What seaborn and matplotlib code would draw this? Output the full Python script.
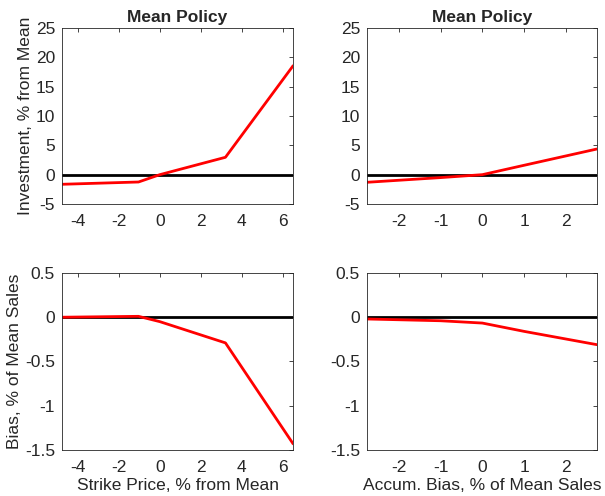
import numpy as np
import pandas as pd
import matplotlib
matplotlib.use('Agg')
import matplotlib.pyplot as plt
import seaborn as sns

# Data
strike_x = [-4.77, -1.04, 0.0, 3.2, 6.5]
strike_invest = [-1.64, -1.25, 0.0, 2.96, 18.56]
strike_bias = [0.0, 0.01, -0.05, -0.29, -1.43]

accum_x = [-2.76, -1.0, 0.0, 1.0, 2.74]
accum_invest = [-1.3, -0.5, 0.0, 1.6, 4.37]
accum_bias = [-0.02, -0.04, -0.066, -0.16, -0.31]

strike_xlim = (-4.77, 6.5)
accum_xlim = (-2.76, 2.74)
strike_xticks = [-4, -2, 0, 2, 4, 6]
accum_xticks = [-2, -1, 0, 1, 2]
invest_yticks = [-5, 0, 5, 10, 15, 20, 25]
bias_yticks = [-1.5, -1, -0.5, 0, 0.5]

sns.set_style('white')
plt.rcParams['font.family'] = ['Liberation Sans', 'DejaVu Sans']

fig = plt.figure(figsize=(6.05, 4.96), dpi=100)
ax_tl = fig.add_axes([0.1025, 0.5887, 0.382, 0.355])
ax_tr = fig.add_axes([0.6066, 0.5887, 0.380, 0.355])
ax_bl = fig.add_axes([0.1025, 0.0927, 0.382, 0.357])
ax_br = fig.add_axes([0.6066, 0.0927, 0.380, 0.357])

panels = [
    (ax_tl, strike_x, strike_invest, strike_xlim, strike_xticks, invest_yticks, (-5, 25)),
    (ax_tr, accum_x, accum_invest, accum_xlim, accum_xticks, invest_yticks, (-5, 25)),
    (ax_bl, strike_x, strike_bias, strike_xlim, strike_xticks, bias_yticks, (-1.5, 0.5)),
    (ax_br, accum_x, accum_bias, accum_xlim, accum_xticks, bias_yticks, (-1.5, 0.5)),
]

def fmt(v):
    return f'{v:g}'

for ax, xs, ys, xlim, xt, yt, ylim in panels:
    ax.axhline(0, color='black', lw=2, zorder=1)
    df = pd.DataFrame({'x': xs, 'y': ys})
    sns.lineplot(data=df, x='x', y='y', ax=ax, color='#ff0000', lw=2, zorder=2)
    ax.set_xlim(*xlim)
    ax.set_ylim(*ylim)
    ax.set_xticks(xt)
    ax.set_yticks(yt)
    ax.set_xticklabels([fmt(v) for v in xt])
    ax.set_yticklabels([fmt(v) for v in yt])
    ax.set_xlabel('')
    ax.set_ylabel('')
    ax.tick_params(direction='in', top=True, right=True, length=3, width=0.6,
                   color='#262626', labelsize=12.5, labelcolor='#262626', pad=5)
    ax.tick_params(axis='x', pad=7)
    for sp in ax.spines.values():
        sp.set_visible(True)
        sp.set_color('#262626')
        sp.set_linewidth(0.6)

ax_tl.set_title('Mean Policy', fontsize=12.5, fontweight='bold', pad=4)
ax_tr.set_title('Mean Policy', fontsize=12.5, fontweight='bold', pad=4)
ax_tl.set_ylabel('Investment, % from Mean', fontsize=12.5, color='#262626', labelpad=2)
ax_bl.set_ylabel('Bias, % of Mean Sales', fontsize=12.5, color='#262626', labelpad=2)
ax_bl.set_xlabel('Strike Price, % from Mean', fontsize=12.5, color='#262626', labelpad=2)
ax_br.set_xlabel('Accum. Bias, % of Mean Sales', fontsize=12.5, color='#262626', labelpad=2)

fig.savefig('out.png', dpi=100)
